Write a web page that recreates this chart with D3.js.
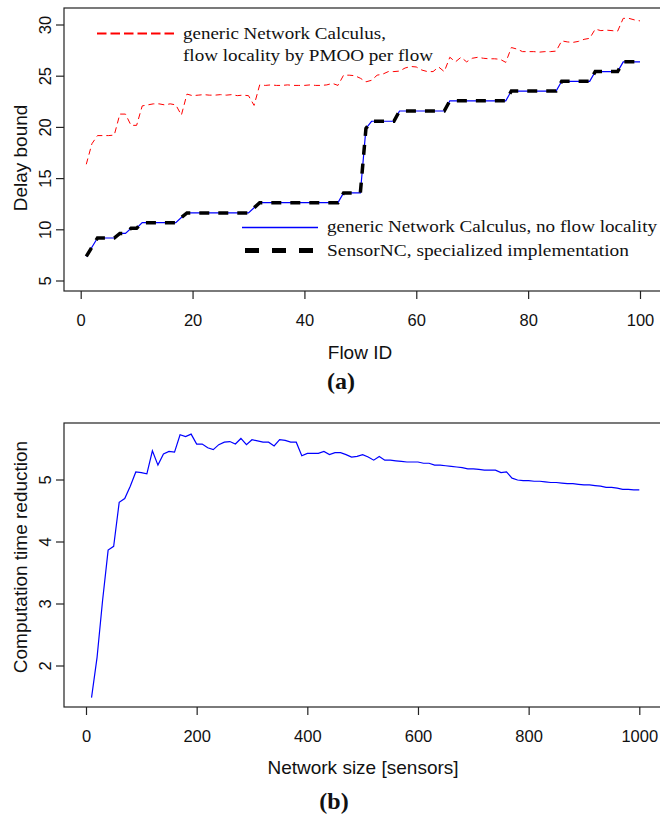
<!DOCTYPE html>
<html>
<head>
<meta charset="utf-8">
<script src="https://cdn.jsdelivr.net/npm/d3@7"></script>
<style>
  body { margin: 0; background: #fff; }
  .axis text { font-family: "Liberation Sans", Arial, sans-serif; font-size: 16.5px; fill: #111; }
  .axis line { stroke: #222; }
  .title { font-family: "Liberation Sans", Arial, sans-serif; font-size: 19px; fill: #111; }
  .legend { font-family: "Liberation Serif", "Times New Roman", serif; font-size: 17.5px; fill: #111; }
  .caption { font-family: "Liberation Serif", "Times New Roman", serif; font-size: 24px; font-weight: bold; fill: #111; }
</style>
</head>
<body>
<svg id="chart" width="660" height="816"></svg>
<script>
// ---- data ----
var flowIds = d3.range(1, 101);

var pmooPerFlow = [16.4, 18.4, 19.2, 19.2, 19.2, 19.25, 21.3, 21.3, 20.2, 20.2,
  22.1, 22.2, 22.3, 22.3, 22.2, 22.3, 22.2, 21.2, 23.25, 23.1,
  23.15, 23.2, 23.15, 23.15, 23.2, 23.15, 23.2, 23.1, 23.15, 23.1,
  22.15, 24.15, 24.1, 24.15, 24.1, 24.1, 24.15, 24.1, 24.1, 24.1,
  24.15, 24.1, 24.1, 24.15, 24.3, 24.1, 25.1, 25.1, 25.05, 24.8,
  24.45, 24.6, 25.1, 25.2, 25.45, 25.45, 25.5, 25.8, 25.95, 25.9,
  25.6, 25.45, 25.45, 25.9, 25.45, 26.85, 26.4, 26.85, 26.4, 26.75,
  26.85, 26.75, 26.7, 26.7, 26.65, 26.35, 27.8, 27.65, 27.4, 27.4,
  27.4, 27.35, 27.4, 27.4, 27.45, 28.45, 28.35, 28.3, 28.4, 28.6,
  28.7, 29.6, 29.45, 29.5, 29.45, 29.4, 30.65, 30.65, 30.5, 30.4];

var noLocality = [7.4, 8.3, 9.2, 9.2, 9.2, 9.2, 9.65, 9.65, 10.15, 10.15,
  10.7, 10.7, 10.7, 10.7, 10.7, 10.7, 10.7, 11.2, 11.65, 11.65,
  11.65, 11.65, 11.65, 11.65, 11.65, 11.65, 11.65, 11.65, 11.65, 11.65,
  12.15, 12.65, 12.65, 12.65, 12.65, 12.65, 12.65, 12.65, 12.65, 12.65,
  12.65, 12.65, 12.65, 12.65, 12.65, 12.65, 13.6, 13.6, 13.6, 13.6,
  19.9, 20.6, 20.6, 20.6, 20.6, 20.6, 21.6, 21.6, 21.6, 21.6,
  21.6, 21.6, 21.6, 21.6, 21.6, 22.6, 22.6, 22.6, 22.6, 22.6,
  22.6, 22.6, 22.6, 22.6, 22.6, 22.6, 23.55, 23.55, 23.55, 23.55,
  23.55, 23.55, 23.55, 23.55, 23.55, 24.5, 24.5, 24.5, 24.5, 24.5,
  24.5, 25.45, 25.45, 25.45, 25.45, 25.45, 26.4, 26.4, 26.4, 26.4];

var sensorNC = [7.4, 8.3, 9.2, 9.2, 9.2, 9.2, 9.65, 9.65, 10.15, 10.15,
  10.7, 10.7, 10.7, 10.7, 10.7, 10.7, 10.7, 11.2, 11.65, 11.65,
  11.65, 11.65, 11.65, 11.65, 11.65, 11.65, 11.65, 11.65, 11.65, 11.65,
  12.15, 12.65, 12.65, 12.65, 12.65, 12.65, 12.65, 12.65, 12.65, 12.65,
  12.65, 12.65, 12.65, 12.65, 12.65, 12.65, 13.6, 13.6, 13.6, 13.6,
  19.9, 20.6, 20.6, 20.6, 20.6, 20.6, 21.6, 21.6, 21.6, 21.6,
  21.6, 21.6, 21.6, 21.6, 21.6, 22.6, 22.6, 22.6, 22.6, 22.6,
  22.6, 22.6, 22.6, 22.6, 22.6, 22.6, 23.55, 23.55, 23.55, 23.55,
  23.55, 23.55, 23.55, 23.55, 23.55, 24.5, 24.5, 24.5, 24.5, 24.5,
  24.5, 25.45, 25.45, 25.45, 25.45, 25.45, 26.4, 26.4, 26.4, 26.4];

var networkSizes = d3.range(10, 1001, 10);

var timeReduction = [1.49, 2.14, 3.06, 3.87, 3.93, 4.64, 4.70, 4.90, 5.13, 5.12,
  5.10, 5.47, 5.24, 5.42, 5.46, 5.45, 5.73, 5.70, 5.74, 5.58,
  5.58, 5.52, 5.49, 5.57, 5.61, 5.62, 5.58, 5.67, 5.57, 5.65,
  5.63, 5.61, 5.61, 5.55, 5.65, 5.64, 5.61, 5.61, 5.39, 5.43,
  5.43, 5.43, 5.46, 5.41, 5.44, 5.44, 5.41, 5.37, 5.38, 5.41,
  5.37, 5.32, 5.38, 5.32, 5.32, 5.31, 5.30, 5.29, 5.29, 5.29,
  5.27, 5.27, 5.24, 5.24, 5.23, 5.22, 5.21, 5.20, 5.18, 5.18,
  5.17, 5.16, 5.16, 5.16, 5.12, 5.13, 5.03, 5.00, 4.99, 4.99,
  4.98, 4.98, 4.97, 4.96, 4.96, 4.95, 4.94, 4.94, 4.93, 4.92,
  4.92, 4.91, 4.90, 4.88, 4.88, 4.87, 4.85, 4.85, 4.84, 4.84];

var topXTicks = [0, 20, 40, 60, 80, 100];
var topYTicks = [5, 10, 15, 20, 25, 30];
var bottomXTicks = [0, 200, 400, 600, 800, 1000];
var bottomYTicks = [2, 3, 4, 5];

var svg = d3.select("#chart");

// draws box, axes and titles for one panel, returns scales
function panel(cfg) {
  var x = d3.scaleLinear().domain(cfg.xDomain).range([cfg.left, cfg.right]);
  var y = d3.scaleLinear().domain(cfg.yDomain).range([cfg.bottom, cfg.top]);

  svg.append("rect")
    .attr("x", cfg.boxLeft)
    .attr("y", cfg.boxTop)
    .attr("width", cfg.boxRight - cfg.boxLeft)
    .attr("height", cfg.boxBottom - cfg.boxTop)
    .attr("fill", "none")
    .attr("stroke", "#222")
    .attr("stroke-width", 1.2);

  var xAxis = svg.append("g")
    .attr("class", "axis")
    .attr("transform", `translate(0, ${cfg.boxBottom})`)
    .call(d3.axisBottom(x).tickValues(cfg.xTicks).tickSize(8).tickPadding(15).tickFormat(d3.format("d")));
  xAxis.select(".domain").remove();
  xAxis.selectAll("line").attr("stroke-width", 1.2);

  var yAxis = svg.append("g")
    .attr("class", "axis")
    .attr("transform", `translate(${cfg.boxLeft}, 0)`)
    .call(d3.axisLeft(y).tickValues(cfg.yTicks).tickSize(8).tickFormat(d3.format("d")));
  yAxis.select(".domain").remove();
  yAxis.selectAll("line").attr("stroke-width", 1.2);
  yAxis.selectAll("text")
    .attr("x", null).attr("dy", null)
    .attr("text-anchor", "middle")
    .attr("transform", d => `translate(-13, ${y(d)}) rotate(-90)`);
  yAxis.selectAll(".tick").attr("transform", null);
  yAxis.selectAll(".tick line").attr("transform", d => `translate(0, ${y(d)})`);

  svg.append("text")
    .attr("class", "title")
    .attr("text-anchor", "middle")
    .attr("x", cfg.xTitleX)
    .attr("y", cfg.xTitleY)
    .text(cfg.xTitle);

  svg.append("text")
    .attr("class", "title")
    .attr("text-anchor", "middle")
    .attr("transform", `translate(27, ${cfg.yTitleY}) rotate(-90)`)
    .text(cfg.yTitle);

  return {x: x, y: y};
}

// ---- (a) delay bounds ----
var a = panel({
  xDomain: [0, 100], left: 80.7, right: 640,
  yDomain: [5, 30], bottom: 281, top: 25,
  boxLeft: 64, boxRight: 662, boxTop: 8, boxBottom: 291,
  xTicks: topXTicks, yTicks: topYTicks,
  xTitle: "Flow ID", xTitleX: 360, xTitleY: 359,
  yTitle: "Delay bound", yTitleY: 158
});

var lineA = d3.line()
  .x((d, i) => a.x(flowIds[i]))
  .y(d => a.y(d));

svg.append("path")
  .datum(pmooPerFlow)
  .attr("d", lineA)
  .attr("fill", "none")
  .attr("stroke", "#ff0000")
  .attr("stroke-width", 1)
  .attr("stroke-dasharray", "6,4");

svg.append("path")
  .datum(noLocality)
  .attr("d", lineA)
  .attr("fill", "none")
  .attr("stroke", "#0000ff")
  .attr("stroke-width", 1.2);

svg.append("path")
  .datum(sensorNC)
  .attr("d", lineA)
  .attr("fill", "none")
  .attr("stroke", "#000")
  .attr("stroke-width", 3.5)
  .attr("stroke-dasharray", "10,9");

// legends
svg.append("line")
  .attr("x1", 97).attr("x2", 174).attr("y1", 33.5).attr("y2", 33.5)
  .attr("stroke", "#ff0000").attr("stroke-width", 1.8).attr("stroke-dasharray", "9.5,4");
svg.append("text").attr("class", "legend")
  .attr("x", 183).attr("y", 38.5)
  .attr("textLength", 203).attr("lengthAdjust", "spacingAndGlyphs")
  .text("generic Network Calculus,");
svg.append("text").attr("class", "legend")
  .attr("x", 183).attr("y", 60.5)
  .attr("textLength", 250).attr("lengthAdjust", "spacingAndGlyphs")
  .text("flow locality by PMOO per flow");

svg.append("line")
  .attr("x1", 242).attr("x2", 318).attr("y1", 227.5).attr("y2", 227.5)
  .attr("stroke", "#0000ff").attr("stroke-width", 1.3);
svg.append("text").attr("class", "legend")
  .attr("x", 327).attr("y", 232)
  .attr("textLength", 330).attr("lengthAdjust", "spacingAndGlyphs")
  .text("generic Network Calculus, no flow locality");

svg.append("line")
  .attr("x1", 245).attr("x2", 318).attr("y1", 250.5).attr("y2", 250.5)
  .attr("stroke", "#000").attr("stroke-width", 5).attr("stroke-dasharray", "14,13");
svg.append("text").attr("class", "legend")
  .attr("x", 327).attr("y", 255.5)
  .attr("textLength", 302).attr("lengthAdjust", "spacingAndGlyphs")
  .text("SensorNC, specialized implementation");

svg.append("text").attr("class", "caption")
  .attr("text-anchor", "middle")
  .attr("x", 341).attr("y", 389)
  .text("(a)");

// ---- (b) computation time reduction ----
var b = panel({
  xDomain: [0, 1000], left: 86, right: 639.3,
  yDomain: [2, 5], bottom: 666, top: 480,
  boxLeft: 64, boxRight: 662, boxTop: 423, boxBottom: 707,
  xTicks: bottomXTicks, yTicks: bottomYTicks,
  xTitle: "Network size [sensors]", xTitleX: 363, xTitleY: 774,
  yTitle: "Computation time reduction", yTitleY: 557
});

svg.append("path")
  .datum(timeReduction)
  .attr("d", d3.line().x((d, i) => b.x(networkSizes[i])).y(d => b.y(d)))
  .attr("fill", "none")
  .attr("stroke", "#0000ff")
  .attr("stroke-width", 1.2);

svg.append("text").attr("class", "caption")
  .attr("text-anchor", "middle")
  .attr("x", 334).attr("y", 809)
  .text("(b)");
</script>
</body>
</html>
